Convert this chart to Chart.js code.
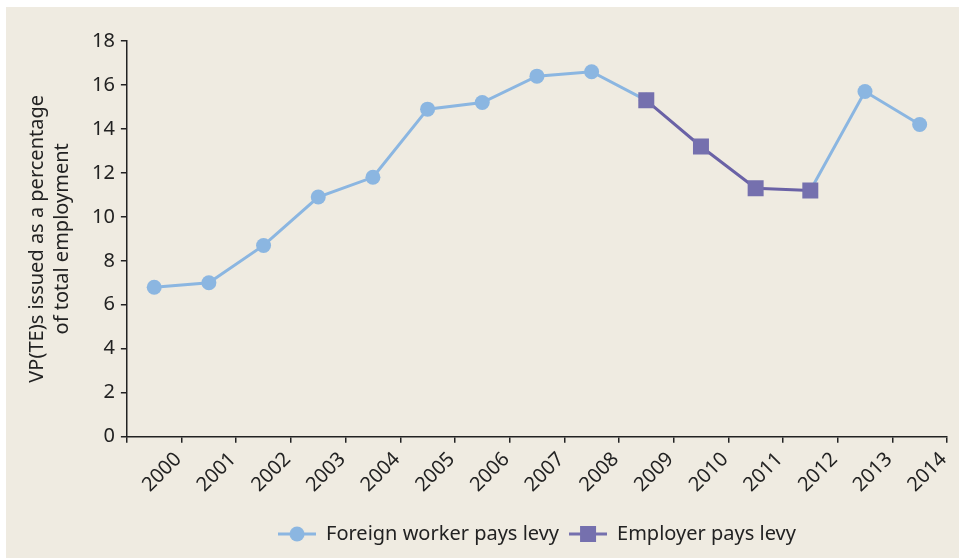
<!DOCTYPE html>
<html>
<head>
<meta charset="utf-8">
<script src="https://cdn.jsdelivr.net/npm/chart.js@4"></script>
<style>
  html, body { margin: 0; padding: 0; background: #ffffff; }
  .panel {
    position: absolute; left: 6px; top: 7px;
    width: 953px; height: 551px;
    background: #efebe1;
  }
</style>
</head>
<body>
<div class="panel">
  <canvas id="levyChart" width="953" height="551"></canvas>
</div>
<script>
  const years = ["2000", "2001", "2002", "2003", "2004", "2005", "2006", "2007",
    "2008", "2009", "2010", "2011", "2012", "2013", "2014"];
  // share of total employment, %
  const foreignWorkerPays = [6.8, 7.0, 8.7, 10.9, 11.8, 14.9, 15.2, 16.4,
    16.6, 15.3, null, null, 11.2, 15.7, 14.2];
  const employerPays = [null, null, null, null, null, null, null, null,
    null, 15.3, 13.2, 11.3, 11.2, null, null];
  const yTicks = [0, 2, 4, 6, 8, 10, 12, 14, 16, 18];

  const blue = "#8bb6e1";
  const purple = "#7570ae";
  const font = "'Noto Sans', sans-serif";

  // small line-with-marker swatches for the legend
  function swatch(color, shape) {
    const c = document.createElement("canvas");
    c.width = 38; c.height = 18;
    const g = c.getContext("2d");
    g.strokeStyle = color;
    g.lineWidth = 3;
    g.beginPath(); g.moveTo(0, 9); g.lineTo(38, 9); g.stroke();
    g.fillStyle = color;
    if (shape === "circle") {
      g.beginPath(); g.arc(19, 9, 7.5, 0, Math.PI * 2); g.fill();
    } else {
      g.fillRect(11, 1, 16, 16);
    }
    return c;
  }

  const ctx = document.getElementById("levyChart").getContext("2d");
  new Chart(ctx, {
    type: "line",
    data: {
      labels: years,
      datasets: [
        {
          label: "Foreign worker pays levy",
          data: foreignWorkerPays,
          borderColor: blue,
          backgroundColor: blue,
          borderWidth: 3,
          pointRadius: 7.5,
          pointBorderWidth: 0,
          pointStyle: "circle",
          spanGaps: false,
          order: 2,
        },
        {
          label: "Employer pays levy",
          data: employerPays,
          borderColor: "#6a62a6",
          backgroundColor: purple,
          borderWidth: 3,
          pointRadius: 11.3,
          pointBorderWidth: 0,
          pointStyle: "rect",
          order: 1,
        },
      ],
    },
    options: {
      responsive: false,
      animation: false,
      layout: { padding: { left: 19, right: 12, top: 34, bottom: 4 } },
      plugins: {
        tooltip: { enabled: false },
        legend: {
          position: "bottom",
          fullSize: false,
          labels: {
            usePointStyle: true,
            pointStyleWidth: 38,
            boxHeight: 18,
            padding: 10,
            color: "#222",
            font: { family: font, size: 20 },
            generateLabels(chart) {
              return chart.data.datasets.map((ds, i) => ({
                text: ds.label,
                datasetIndex: i,
                pointStyle: swatch(i === 0 ? blue : purple, i === 0 ? "circle" : "rect"),
                fillStyle: ds.backgroundColor,
                strokeStyle: ds.borderColor,
                lineWidth: 0,
                fontColor: "#222",
              }));
            },
          },
        },
      },
      scales: {
        x: {
          offset: true,
          // extra room between the year labels and the legend
          afterFit(axis) { axis.height += 12; },
          grid: {
            offset: true,
            drawOnChartArea: false,
            drawTicks: true,
            tickLength: 6,
            color: "#222",
            lineWidth: 1.5,
          },
          border: { color: "#222", width: 1.5 },
          ticks: {
            minRotation: 45,
            maxRotation: 45,
            labelOffset: 24,
            padding: 5,
            color: "#222",
            font: { family: font, size: 20 },
          },
        },
        y: {
          min: 0,
          max: 18,
          afterBuildTicks(axis) {
            axis.ticks = yTicks.map((v) => ({ value: v }));
          },
          grid: {
            drawOnChartArea: false,
            tickLength: 6,
            color: "#222",
            lineWidth: 1.5,
          },
          border: { color: "#222", width: 1.5 },
          ticks: {
            padding: 6,
            color: "#222",
            font: { family: font, size: 20 },
          },
          title: {
            display: true,
            text: ["VP(TE)s issued as a percentage", "of total employment"],
            color: "#222",
            font: { family: font, size: 20, lineHeight: 1.25 },
            padding: { top: 0, bottom: 11 },
          },
        },
      },
    },
  });
</script>
</body>
</html>
